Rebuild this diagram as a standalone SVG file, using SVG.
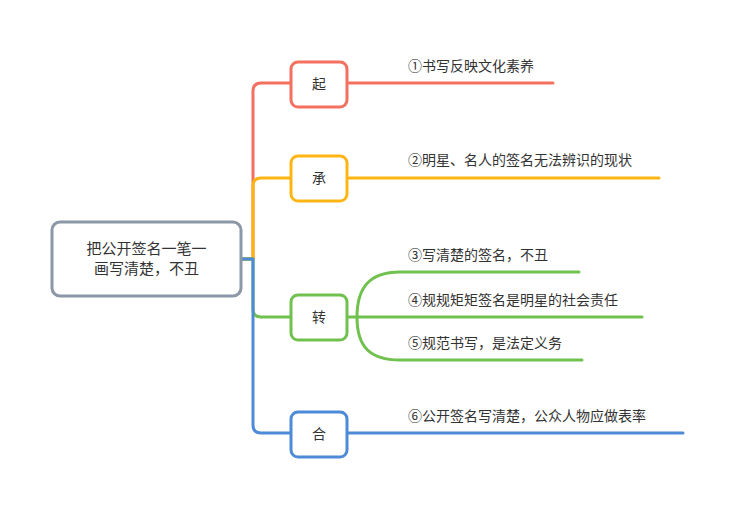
<svg xmlns="http://www.w3.org/2000/svg" width="732" height="507" viewBox="0 0 732 507">
<style>
text{font-family:"Noto Sans CJK SC","Liberation Sans",sans-serif;fill:#333;}
.lbl{font-size:14px;}
.node{font-size:14px;text-anchor:middle;}
.root{font-size:15px;text-anchor:middle;}
.c{fill:none;stroke-width:3;stroke-linecap:round;stroke-linejoin:round;}
.box{fill:#fff;stroke-width:3;}
.r{stroke:#f4705f;} .o{stroke:#fdb514;} .g{stroke:#70c14e;} .b{stroke:#4d8ad8;}
</style>
<rect width="732" height="507" fill="#fff"/>
<g id="connectors">
<path class="c r" d="M241 259 H253 V91 Q253 83 261 83 H291"/>
<path class="c r" d="M347 83 H553"/>
<path class="c o" d="M241 259 H253 V186 Q253 178 261 178 H291"/>
<path class="c o" d="M347 178 H659"/>
<path class="c g" d="M241 259 H253 V309 Q253 317 261 317 H291"/>
<path class="c g" d="M347 317 H642"/>
<path class="c g" d="M357 317 C357 287 370 272 400 272 H579"/>
<path class="c g" d="M357 317 C357 347 370 360 400 360 H582"/>
<path class="c b" d="M241 259 H253 V425 Q253 433 261 433 H291"/>
<path class="c b" d="M347 433 H683"/>
</g>
<g id="root">
<rect x="52" y="222" width="189" height="74" rx="8" fill="#fff" stroke="#8c97a7" stroke-width="3"/>
<text class="root" x="146.5" y="254">把公开签名一笔一</text>
<text class="root" x="146.5" y="274">画写清楚，不丑</text>
</g>
<g id="n-qi">
<rect class="box r" x="291" y="62" width="56" height="45" rx="7"/>
<text class="node" x="319" y="89">起</text>
</g>
<g id="n-cheng">
<rect class="box o" x="291" y="156" width="56" height="45" rx="7"/>
<text class="node" x="319" y="183">承</text>
</g>
<g id="n-zhuan">
<rect class="box g" x="291" y="295" width="56" height="45" rx="7"/>
<text class="node" x="319" y="322">转</text>
</g>
<g id="n-he">
<rect class="box b" x="291" y="412" width="56" height="45" rx="7"/>
<text class="node" x="319" y="439">合</text>
</g>
<g id="t1"><text class="lbl" x="408" y="71">①书写反映文化素养</text></g>
<g id="t2"><text class="lbl" x="408" y="165">②明星、名人的签名无法辨识的现状</text></g>
<g id="t3"><text class="lbl" x="408" y="260">③写清楚的签名，不丑</text></g>
<g id="t4"><text class="lbl" x="408" y="305">④规规矩矩签名是明星的社会责任</text></g>
<g id="t5"><text class="lbl" x="408" y="348">⑤规范书写，是法定义务</text></g>
<g id="t6"><text class="lbl" x="408" y="421">⑥公开签名写清楚，公众人物应做表率</text></g>
</svg>
